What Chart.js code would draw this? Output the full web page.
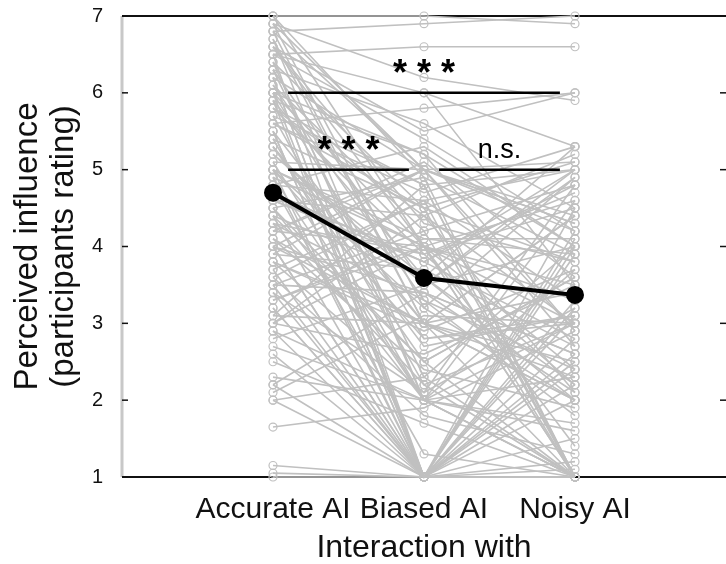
<!DOCTYPE html>
<html lang="en">
<head>
    <meta charset="UTF-8">
    <title>Perceived influence</title>
    <script src="https://cdn.jsdelivr.net/npm/chart.js"></script>
    <style>
        body { margin: 0; background: #fff; }
        canvas { display: block; }
    </style>
</head>
<body>
    <canvas id="myChart" width="726" height="564"></canvas>

    <script>
        // conditions on the x axis
        const categories = ['Accurate AI', 'Biased AI', 'Noisy AI'];

        // one rating per participant and condition
        const accurate = [
            7.0, 7.0, 6.9, 6.8, 6.8, 6.7, 6.6, 6.5, 6.5, 6.4,
            6.3, 6.2, 6.2, 6.1, 6.0, 6.0, 6.0, 5.9, 5.8, 5.8,
            5.7, 5.6, 5.5, 5.5, 5.4, 5.3, 5.2, 5.1, 5.0, 5.0,
            5.0, 4.9, 4.8, 4.8, 4.7, 4.6, 4.5, 4.5, 4.4, 4.3,
            4.2, 4.1, 4.0, 4.0, 4.0, 3.9, 3.8, 3.7, 3.6, 3.5,
            3.4, 3.3, 3.2, 3.1, 3.0, 3.0, 2.9, 2.8, 2.5, 2.3,
            2.2, 2.1, 2.0, 1.65, 1.15, 1.05, 1.0, 6.9, 6.6, 6.3,
            5.9, 5.6, 5.3, 4.9, 4.6, 4.3, 4.2, 3.8, 3.5, 3.0,
            6.5, 6.1, 5.7, 5.4, 5.0, 4.7, 4.4, 4.0, 3.6, 3.2,
            6.8, 6.4, 6.0, 5.5, 5.2, 4.8, 4.5, 4.1, 3.9, 3.4,
            7.0, 6.7, 6.2, 5.8, 5.1, 4.6, 4.2, 3.7, 3.3, 2.7,
            6.9, 6.5, 6.0, 5.6, 5.0, 4.4, 4.0, 3.5, 2.9, 2.0,
            6.6, 6.3, 5.9, 5.3, 4.9, 4.3, 3.8, 3.1, 2.6, 2.2
        ];
        const biased = [
            7.0, 4.0, 5.0, 6.9, 3.0, 2.0, 5.5, 1.0, 6.6, 4.5,
            3.5, 5.0, 1.0, 4.2, 6.0, 2.8, 5.2, 1.0, 3.9, 4.8,
            2.2, 5.8, 3.0, 1.0, 4.5, 2.5, 3.6, 5.0, 1.0, 4.0,
            3.2, 2.0, 5.3, 1.3, 3.8, 4.4, 2.0, 4.9, 1.0, 3.3,
            4.0, 2.4, 3.0, 5.0, 1.0, 3.7, 2.9, 4.6, 1.8, 3.4,
            2.1, 4.1, 1.0, 3.0, 2.6, 4.0, 1.0, 3.5, 1.7, 2.0,
            1.0, 3.1, 2.3, 1.9, 1.0, 1.0, 1.0, 6.2, 4.3, 5.6,
            3.6, 4.7, 2.7, 4.0, 3.9, 2.2, 5.1, 3.0, 1.0, 4.4,
            5.4, 3.3, 4.8, 2.0, 4.1, 3.8, 2.5, 3.4, 4.6, 1.0,
            5.0, 2.0, 4.0, 1.0, 3.5, 4.6, 2.5, 3.0, 5.0, 1.0,
            4.9, 3.0, 1.0, 4.4, 2.0, 3.8, 5.0, 1.0, 4.0, 2.0,
            3.2, 6.0, 1.0, 4.5, 2.8, 3.6, 1.0, 4.2, 2.0, 1.0,
            4.0, 2.3, 5.2, 3.0, 1.0, 3.9, 2.1, 4.8, 1.0, 3.4
        ];
        const noisy = [
            6.9, 3.5, 4.4, 7.0, 2.3, 1.0, 6.0, 1.0, 6.6, 3.8,
            5.0, 2.9, 1.2, 4.8, 5.3, 3.1, 4.0, 2.0, 4.5, 1.0,
            3.0, 6.0, 2.5, 1.0, 5.1, 3.6, 2.2, 4.2, 1.1, 3.3,
            4.9, 1.6, 4.0, 1.0, 2.8, 5.2, 3.0, 3.9, 1.0, 2.4,
            4.6, 1.9, 3.4, 4.3, 1.0, 2.7, 3.7, 5.0, 1.3, 2.1,
            3.2, 4.1, 1.0, 2.0, 3.5, 1.0, 2.6, 4.0, 1.0, 1.7,
            2.2, 3.0, 1.0, 2.9, 1.0, 1.5, 1.0, 5.9, 3.8, 4.5,
            2.0, 5.3, 3.1, 2.4, 4.7, 1.0, 3.6, 4.4, 2.8, 3.0,
            4.2, 1.8, 5.0, 2.3, 3.9, 4.8, 1.0, 2.6, 3.3, 4.1,
            4.3, 1.0, 3.0, 2.5, 4.9, 1.0, 3.6, 2.0, 5.1, 4.0,
            1.0, 4.4, 3.2, 2.1, 1.0, 5.0, 2.7, 3.9, 1.0, 4.6,
            2.0, 3.5, 4.2, 1.0, 3.0, 5.3, 2.4, 1.0, 3.7, 4.5,
            1.4, 4.0, 2.9, 1.0, 3.1, 2.2, 4.8, 1.0, 3.3, 2.6
        ];

        // group means
        const means = [4.70, 3.59, 3.37];

        // significance labels: Accurate-Noisy, Accurate-Biased, Biased-Noisy
        const sigLabels = ['***', '***', 'n.s.'];

        const FONT = '"Liberation Sans", Arial, Helvetica, sans-serif';
        const GRAY = '#c0c0c0';

        const datasets = [{
            data: means.map((v, i) => ({ x: i + 1, y: v })),
            showLine: true,
            borderColor: '#000',
            backgroundColor: '#000',
            borderWidth: 4,
            pointRadius: 7,
            clip: false
        }];
        accurate.forEach((v, i) => {
            datasets.push({
                data: [{ x: 1, y: v }, { x: 2, y: biased[i] }, { x: 3, y: noisy[i] }],
                showLine: true,
                borderColor: GRAY,
                borderWidth: 1.6,
                pointRadius: 4,
                pointBorderWidth: 1.2,
                pointBorderColor: GRAY,
                pointBackgroundColor: 'rgba(0,0,0,0)',
                clip: false
            });
        });

        function seg(ctx, x1, y1, x2, y2) {
            ctx.beginPath();
            ctx.moveTo(x1, y1);
            ctx.lineTo(x2, y2);
            ctx.stroke();
        }

        // axes box drawn under the data
        const frame = {
            id: 'frame',
            beforeDatasetsDraw(chart) {
                const { ctx, chartArea: a, scales: { y } } = chart;
                ctx.save();
                ctx.strokeStyle = '#c8c8c8';
                ctx.lineWidth = 3;
                seg(ctx, a.left, a.top, a.left, a.bottom);
                ctx.strokeStyle = '#111';
                ctx.lineWidth = 2;
                seg(ctx, a.left, a.top, a.right, a.top);
                seg(ctx, a.left, a.bottom, a.right, a.bottom);
                ctx.lineWidth = 1.5;
                for (let v = 1; v <= 7; v++) {
                    const py = y.getPixelForValue(v);
                    seg(ctx, a.left, py, a.left + 6, py);
                    seg(ctx, a.right - 6, py, a.right, py);
                }
                ctx.restore();
            }
        };

        // significance brackets on top of the data
        const sig = {
            id: 'sig',
            afterDatasetsDraw(chart) {
                const { ctx, scales: { x, y } } = chart;
                ctx.save();
                ctx.strokeStyle = '#000';
                ctx.lineWidth = 2.5;
                const bars = [[1.1, 2.9, 6], [1.1, 1.9, 5], [2.1, 2.9, 5]];
                bars.forEach(([a, b, lv], i) => {
                    const py = y.getPixelForValue(lv);
                    seg(ctx, x.getPixelForValue(a), py, x.getPixelForValue(b), py);
                    const cx = x.getPixelForValue((a + b) / 2);
                    ctx.fillStyle = '#000';
                    ctx.textAlign = 'center';
                    ctx.textBaseline = 'alphabetic';
                    if (sigLabels[i] === 'n.s.') {
                        ctx.font = '27px ' + FONT;
                        ctx.fillText(sigLabels[i], cx, py - 12);
                    } else {
                        ctx.font = 'bold 36px ' + FONT;
                        ctx.fillText(sigLabels[i].split('').join(' '), cx, py - 8);
                    }
                });
                ctx.restore();
            }
        };

        new Chart(document.getElementById('myChart'), {
            type: 'scatter',
            data: { datasets },
            options: {
                responsive: false,
                animation: false,
                layout: { autoPadding: false, padding: { top: 16, right: 0, left: 0, bottom: 0 } },
                plugins: { legend: { display: false }, tooltip: { enabled: false } },
                scales: {
                    x: {
                        type: 'linear',
                        min: 0,
                        max: 4,
                        grid: { display: false },
                        border: { display: false },
                        afterBuildTicks: s => { s.ticks = [1, 2, 3].map(v => ({ value: v })); },
                        afterFit: s => { s.height = 87; s.paddingLeft = 0; s.paddingRight = 0; },
                        ticks: {
                            autoSkip: false,
                            maxRotation: 0,
                            padding: 7,
                            color: '#111',
                            font: { family: FONT, size: 30 },
                            callback: v => categories[v - 1]
                        },
                        title: {
                            display: true,
                            text: 'Interaction with',
                            color: '#111',
                            font: { family: FONT, size: 32, lineHeight: 1.0 },
                            padding: { top: 0, bottom: 0 }
                        }
                    },
                    y: {
                        min: 1,
                        max: 7,
                        grid: { display: false },
                        border: { display: false },
                        afterFit: s => { s.width = 122; s.paddingTop = 0; s.paddingBottom = 0; },
                        ticks: {
                            stepSize: 1,
                            padding: 11,
                            color: '#111',
                            font: { family: FONT, size: 20 }
                        },
                        title: {
                            display: true,
                            text: ['Perceived influence', '(participants rating)'],
                            color: '#111',
                            font: { family: FONT, size: 33, lineHeight: 1.09 },
                            padding: { top: 10, bottom: 0 }
                        }
                    }
                }
            },
            plugins: [frame, sig]
        });
    </script>
</body>
</html>
